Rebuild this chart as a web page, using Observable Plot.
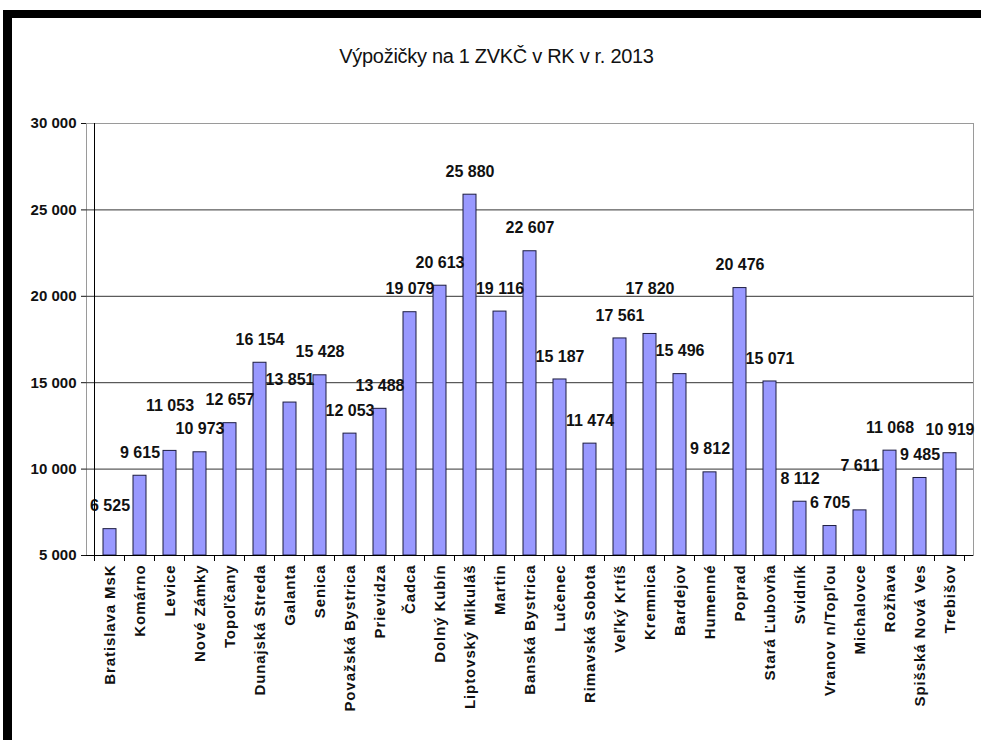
<!DOCTYPE html>
<html>
<head>
<meta charset="utf-8">
<script src="https://cdn.jsdelivr.net/npm/d3@7"></script>
<script src="https://cdn.jsdelivr.net/npm/@observablehq/plot@0.6"></script>
<style>
  html, body { margin: 0; padding: 0; background: #fff; }
  #page { position: relative; width: 981px; height: 740px; overflow: hidden; background: #fff; }
  #frame { position: absolute; left: 3px; top: 10px; right: 0; bottom: 0; border-top: 8px solid #000; border-left: 9px solid #000; }
  #title { position: absolute; left: 12px; width: 969px; top: 45px; text-align: center;
           font-family: "Liberation Sans", Arial, sans-serif;
           font-size: 20px; color: #111; letter-spacing: -0.3px; }
  #chart { position: absolute; left: 12px; top: 100px; }
</style>
</head>
<body>
<div id="page">
  <div id="frame"></div>
  <div id="title">Výpožičky na 1 ZVKČ v RK v r. 2013</div>
  <div id="chart"></div>
</div>
<script>
const categories = [
  "Bratislava MsK", "Komárno", "Levice", "Nové Zámky", "Topoľčany", "Dunajská Streda",
  "Galanta", "Senica", "Považská Bystrica", "Prievidza", "Čadca", "Dolný Kubín",
  "Liptovský Mikuláš", "Martin", "Banská Bystrica", "Lučenec", "Rimavská Sobota",
  "Veľký Krtíš", "Kremnica", "Bardejov", "Humenné", "Poprad", "Stará Ľubovňa",
  "Svidník", "Vranov n/Topľou", "Michalovce", "Rožňava", "Spišská Nová Ves", "Trebišov"
];
const values = [
  6525, 9615, 11053, 10973, 12657, 16154,
  13851, 15428, 12053, 13488, 19079, 20613,
  25880, 19116, 22607, 15187, 11474,
  17561, 17820, 15496, 9812, 20476, 15071,
  8112, 6705, 7611, 11068, 9485, 10919
];
const yTicks = [5000, 10000, 15000, 20000, 25000, 30000];

const fmt = n => d3.format(",")(n).replace(/,/g, " ");
const font = '"Liberation Sans", Arial, sans-serif';
const yMin = yTicks[0], yMax = yTicks[yTicks.length - 1];

const W = 969, H = 640, mT = 23, mB = 185, mL = 74, mR = 8;
// standalone copy of the y scale, used only to decide which neighbouring labels would collide
const yScale = Plot.scale({y: {domain: [yMin, yMax], range: [H - mB, mT]}});
const raised = values.map(() => false);
for (let i = 1; i < values.length; i++) {
  const a = yScale.apply(values[i - 1]), b = yScale.apply(values[i]);
  if (Math.abs(a - b) < 18 && !raised[i - 1]) {
    if (values[i] >= values[i - 1]) raised[i] = true; else raised[i - 1] = true;
  }
}
const data = categories.map((name, i) => ({name, value: values[i], raised: raised[i]}));

const labelOpts = {x: "name", y: "value", text: d => fmt(d.value), lineAnchor: "middle",
  fontSize: 16, fontWeight: "bold", fontFamily: font, fill: "#111"};

const plot = Plot.plot({
  width: W,
  height: H,
  marginTop: mT,
  marginBottom: mB,
  marginLeft: mL,
  marginRight: mR,
  style: {fontFamily: font, color: "#111", background: "transparent"},
  x: {domain: categories, paddingInner: 0.565, paddingOuter: 0.2825, label: null},
  y: {domain: [yMin, yMax], label: null},
  marks: [
    Plot.frame({stroke: "#9a9a9a"}),
    Plot.ruleY(yTicks.slice(1, -1), {stroke: "#333", strokeWidth: 1}),
    Plot.barY(data, {x: "name", y1: yMin, y2: "value", fill: "#9999ff", stroke: "#1c1c40", strokeWidth: 1}),
    Plot.text(data.filter(d => !d.raised), {...labelOpts, dy: -23}),
    Plot.text(data.filter(d => d.raised), {...labelOpts, dy: -45}),
    Plot.ruleY([yMin], {stroke: "#000", strokeWidth: 1}),
    Plot.axisY({ticks: yTicks, tickFormat: fmt, tickSize: 5, tickPadding: 5, fontSize: 15,
      fontWeight: "bold", fontFamily: font, label: null}),
    Plot.axisX({tickRotate: -90, tickSize: 0, tickPadding: 9, fontSize: 15, fontWeight: "bold",
      fontFamily: font, label: null})
  ]
});

// left axis line and boundary tick marks, positioned with the plot's own scales
const sx = plot.scale("x"), sy = plot.scale("y");
const svg = d3.select(plot);
svg.selectAll('g[aria-label="x-axis tick label"] text').style("letter-spacing", "0.9px");
const y0 = sy.apply(yMin), y1 = sy.apply(yMax);
const g = svg.append("g").attr("stroke", "#000").attr("stroke-width", 1);
const left = sx.apply(categories[0]) + sx.bandwidth / 2 - sx.step / 2;
g.append("line").attr("x1", left).attr("x2", left).attr("y1", y1).attr("y2", y0);
categories.forEach((c, i) => {
  const cx = sx.apply(c) + sx.bandwidth / 2;
  const bx = [cx - sx.step / 2];
  if (i === categories.length - 1) bx.push(cx + sx.step / 2);
  bx.forEach(x => g.append("line").attr("x1", x).attr("x2", x).attr("y1", y0).attr("y2", y0 + 6));
});

document.getElementById("chart").appendChild(plot);
</script>
</body>
</html>
